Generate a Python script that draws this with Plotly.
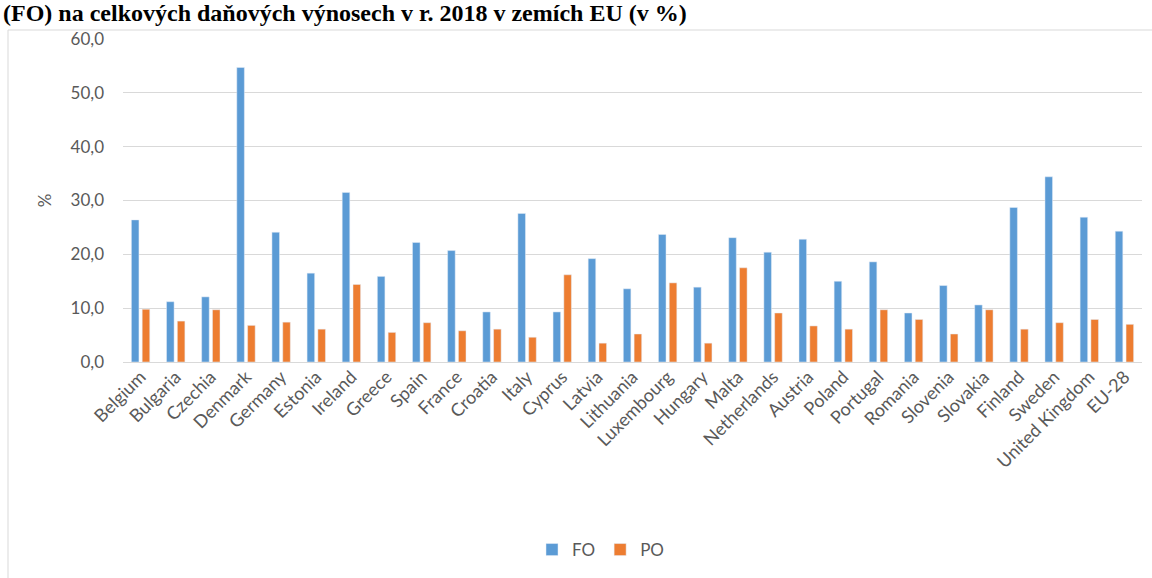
import plotly.graph_objects as go

countries = [
    "Belgium", "Bulgaria", "Czechia", "Denmark", "Germany", "Estonia", "Ireland",
    "Greece", "Spain", "France", "Croatia", "Italy", "Cyprus", "Latvia",
    "Lithuania", "Luxembourg", "Hungary", "Malta", "Netherlands", "Austria",
    "Poland", "Portugal", "Romania", "Slovenia", "Slovakia", "Finland",
    "Sweden", "United Kingdom", "EU-28",
]

# podíl daně z příjmů fyzických osob (FO) a právnických osob (PO), v %
fo = [26.4, 11.2, 12.1, 54.7, 24.1, 16.5, 31.5, 15.9, 22.2, 20.7, 9.3, 27.6, 9.3, 19.2,
      13.6, 23.7, 13.9, 23.1, 20.4, 22.8, 15.0, 18.6, 9.1, 14.2, 10.6, 28.7,
      34.4, 26.9, 24.3]
po = [9.8, 7.6, 9.7, 6.8, 7.4, 6.1, 14.4, 5.5, 7.3, 5.8, 6.1, 4.6, 16.2, 3.5,
      5.2, 14.7, 3.5, 17.5, 9.1, 6.7, 6.1, 9.7, 7.9, 5.2, 9.7, 6.1,
      7.3, 7.9, 7.0]

y_ticks = [0, 10, 20, 30, 40, 50, 60]
y_tick_labels = ["0,0", "10,0", "20,0", "30,0", "40,0", "50,0", "60,0"]

title_text = "(FO) na celkových daňových výnosech v r. 2018 v zemích EU (v %)"

W, H = 1152, 578
L, R, T, B = 123, 10, 39, 216
pw, ph = W - L - R, H - T - B

def px_x(p):
    return (p - L) / pw

def px_y(p):
    return (H - B - p) / ph

font_family = "Lato, 'Open Sans', sans-serif"
grey = "#595959"

fig = go.Figure()
fig.add_trace(go.Bar(x=countries, y=fo, name="FO", marker_color="#5B9BD5"))
fig.add_trace(go.Bar(x=countries, y=po, name="PO", marker_color="#ED7D31"))

fig.update_layout(
    width=W, height=H,
    margin=dict(l=L, r=R, t=T, b=B, autoexpand=False),
    paper_bgcolor="white", plot_bgcolor="white",
    barmode="group", bargap=0.385, bargroupgap=0.3,
    font=dict(family=font_family, color=grey, size=17),
    showlegend=True,
    legend=dict(
        orientation="h", x=px_x(532), xanchor="left",
        y=px_y(550), yanchor="middle",
        font=dict(size=17, color=grey),
        itemwidth=30,
        bgcolor="rgba(0,0,0,0)",
    ),
    xaxis=dict(
        tickangle=-45, tickfont=dict(size=18, color=grey),
        showgrid=False, showline=False, ticks="",
    ),
    yaxis=dict(
        range=[0, 60], tickvals=y_ticks, ticktext=y_tick_labels,
        tickfont=dict(size=17, color=grey),
        gridcolor="#D9D9D9", gridwidth=1,
        zeroline=True, zerolinecolor="#D9D9D9", zerolinewidth=1,
        showline=False, ticks="", ticklabelstandoff=18,
        title=dict(text="%", font=dict(size=17, color=grey), standoff=14),
    ),
)

# outer chart frame
fig.add_shape(
    type="rect", xref="paper", yref="paper",
    x0=px_x(8), x1=px_x(1170), y0=px_y(620), y1=px_y(30),
    line=dict(color="#D9D9D9", width=1), fillcolor="rgba(0,0,0,0)", layer="below",
)

# heading text above the frame
fig.add_annotation(
    text="<b>" + title_text + "</b>",
    xref="paper", yref="paper", x=px_x(1), y=px_y(28),
    xanchor="left", yanchor="bottom", showarrow=False,
    font=dict(family="'Liberation Serif', 'Times New Roman', serif", size=24, color="black"),
)

fig.write_html("out.html")
